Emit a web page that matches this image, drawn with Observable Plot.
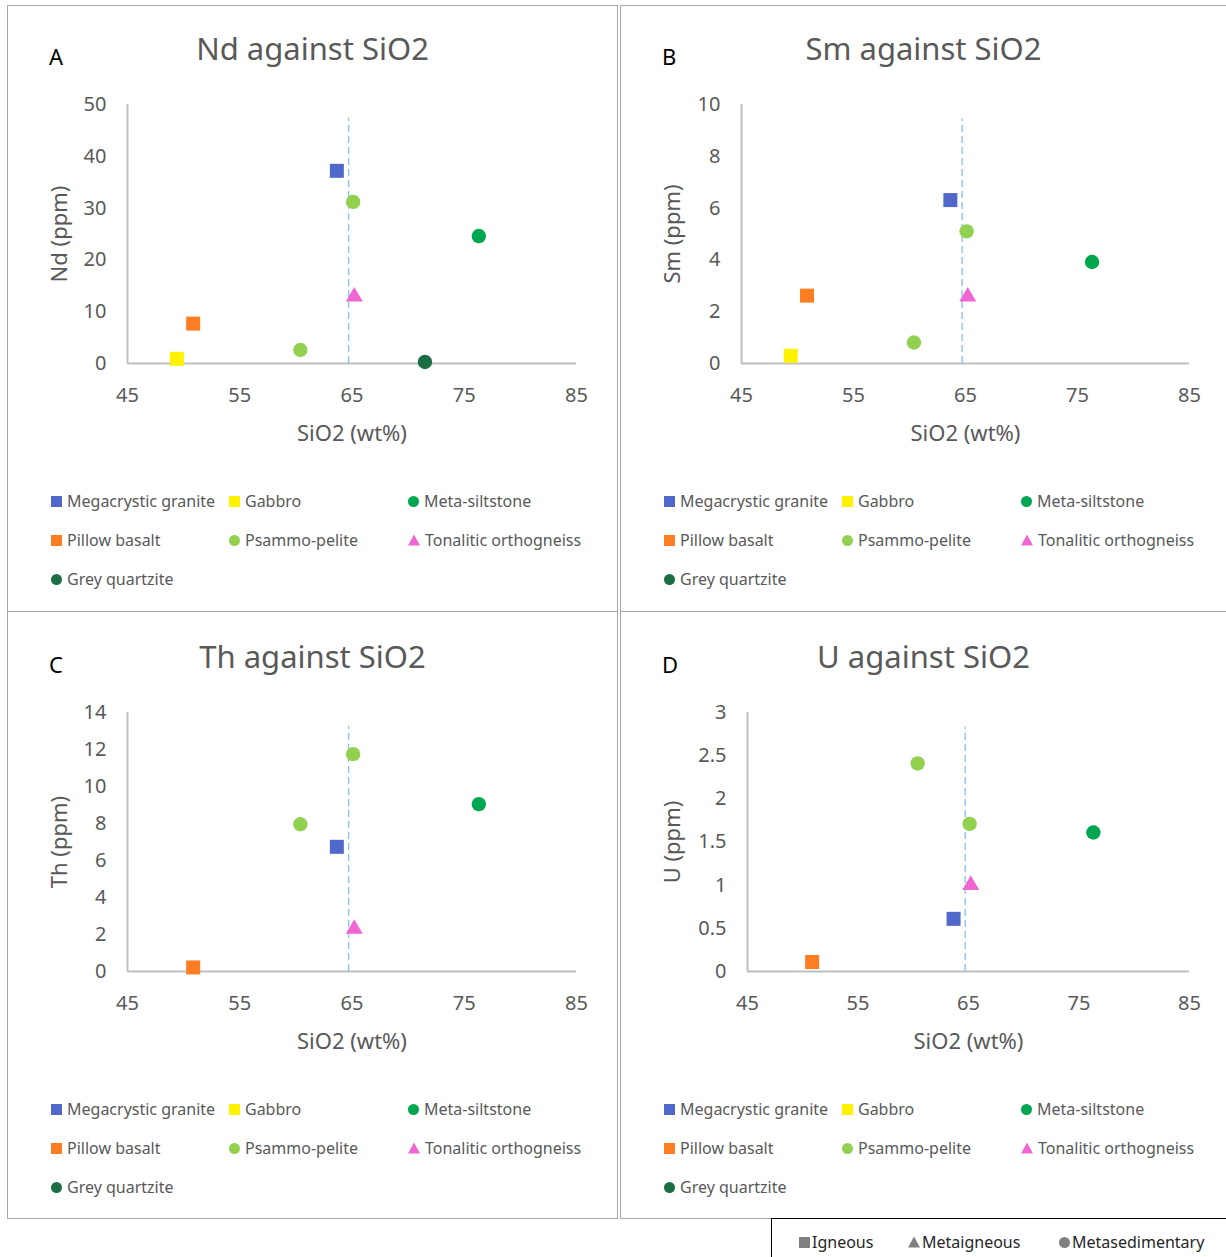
<!DOCTYPE html>
<html>
<head>
<meta charset="utf-8">
<script src="https://cdn.jsdelivr.net/npm/d3@7"></script>
<script src="https://cdn.jsdelivr.net/npm/@observablehq/plot@0.6"></script>
<style>
  html, body { margin: 0; padding: 0; background: #fff; overflow: hidden; }
  body { width: 1226px; height: 1257px; position: relative; font-family: "Noto Sans", sans-serif; }
  .panel { position: absolute; border: 1px solid #a6a6a6; box-sizing: border-box; background: #fff; }
  .letter { position: absolute; font-size: 22px; color: #000; line-height: 30px; }
  .title { position: absolute; left: 0; right: 0; text-align: center; font-size: 31px; color: #595959; line-height: 40px; }
  .plot { position: absolute; left: 0; }
  .leg { position: absolute; display: flex; align-items: center; height: 22px; font-size: 16px; color: #595959; white-space: nowrap; }
  .mk { display: inline-block; width: 11px; height: 11px; margin-right: 5px; }
  .mk.circle { border-radius: 50%; }
  .mk.triangle { clip-path: polygon(50% 0, 100% 100%, 0 100%); width: 12px; }
  #keybox { position: absolute; left: 771px; top: 1218px; width: 470px; height: 60px; border-left: 1px solid #000; border-top: 1px solid #000; }
  .key { position: absolute; top: 12px; display: flex; align-items: center; font-size: 16px; color: #262626; white-space: nowrap; }
  .key .mk { background: #808080; margin-right: 2px; }
</style>
</head>
<body>
<script>
// ---- data ----
const categories = ["Megacrystic granite", "Gabbro", "Meta-siltstone", "Pillow basalt", "Psammo-pelite", "Tonalitic orthogneiss", "Grey quartzite"];
const catColors = ["#4f68c9", "#fff200", "#00a650", "#fd7d22", "#92d050", "#f066d3", "#1b6d44"];
const catShapes = ["square", "square", "circle", "square", "circle", "triangle", "circle"];

// each sample: category, SiO2 (wt%)
const sampleCat  = ["Megacrystic granite", "Gabbro", "Pillow basalt", "Psammo-pelite", "Psammo-pelite", "Tonalitic orthogneiss", "Meta-siltstone", "Grey quartzite"];
const sampleSiO2 = [63.65, 49.4, 50.85, 60.4, 65.1, 65.2, 76.3, 71.5];

// trace element values (ppm), null = not plotted
const ndValues = [37.2, 0.9, 7.7, 2.6, 31.2, 12.9, 24.6, 0.3];
const smValues = [6.31, 0.3, 2.62, 0.81, 5.1, 2.58, 3.92, null];
const thValues = [6.74, null, 0.22, 7.96, 11.75, 2.3, 9.05, null];
const uValues  = [0.61, null, 0.11, 2.41, 1.71, 1.0, 1.61, null];

const xDomain = [45, 85];
const xTicks = [45, 55, 65, 75, 85];
const refSiO2 = 64.7;

const panelLetters = ["A", "B", "C", "D"];
const panelTitles = ["Nd against SiO2", "Sm against SiO2", "Th against SiO2", "U against SiO2"];
const panelYLabels = ["Nd (ppm)", "Sm (ppm)", "Th (ppm)", "U (ppm)"];
const panelYDomains = [[0, 50], [0, 10], [0, 14], [0, 3]];
const panelYTicks = [[0, 10, 20, 30, 40, 50], [0, 2, 4, 6, 8, 10], [0, 2, 4, 6, 8, 10, 12, 14], [0, 0.5, 1, 1.5, 2, 2.5, 3]];
const panelRefTop = [47.4, 9.45, 13.25, 2.83];
const panelValues = [ndValues, smValues, thValues, uValues];

const groupNames = ["Igneous", "Metaigneous", "Metasedimentary"];
const groupShapes = ["square", "triangle", "circle"];

// ---- layout ----
const panelBoxes = [
  {left: 7, top: 5, width: 611, height: 607, ml: 119, mr: 41, off: 0},
  {left: 620, top: 5, width: 607, height: 607, ml: 120, mr: 37, off: 0},
  {left: 7, top: 611, width: 611, height: 608, ml: 119, mr: 41, off: 2},
  {left: 620, top: 611, width: 607, height: 608, ml: 126, mr: 37, off: 2}
];

const colorOf = c => catColors[categories.indexOf(c)];
const shapeOf = c => catShapes[categories.indexOf(c)];

panelBoxes.forEach((box, p) => {
  const panel = document.createElement("div");
  panel.className = "panel";
  Object.assign(panel.style, {left: box.left + "px", top: box.top + "px", width: box.width + "px", height: box.height + "px"});
  document.body.appendChild(panel);

  const letter = document.createElement("div");
  letter.className = "letter";
  letter.style.left = "41px"; letter.style.top = (35 + box.off) + "px";
  letter.textContent = panelLetters[p];
  panel.appendChild(letter);

  const title = document.createElement("div");
  title.className = "title";
  title.style.top = (22 + box.off) + "px";
  title.textContent = panelTitles[p];
  panel.appendChild(title);

  const values = panelValues[p];
  const data = sampleCat.map((c, i) => ({cat: c, x: sampleSiO2[i], y: values[i]})).filter(d => d.y != null);
  const innerW = box.width - 2;
  const svgH = 382;
  const yMax = panelYDomains[p][1];
  const fmt = d => String(d);

  const chart = Plot.plot({
    width: innerW,
    height: svgH,
    marginLeft: box.ml,
    marginRight: box.mr,
    marginTop: 20,
    marginBottom: 103,
    style: {fontFamily: "Noto Sans, sans-serif", background: "transparent"},
    x: {domain: xDomain, ticks: xTicks, tickSize: 0, tickPadding: 24, tickFormat: fmt, label: null},
    y: {domain: panelYDomains[p], ticks: panelYTicks[p], tickSize: 0, tickPadding: 21, tickFormat: fmt, label: null},
    marks: [
      Plot.axisX({ticks: xTicks, tickSize: 0, tickPadding: 24, tickFormat: fmt, label: null, fontSize: 20, color: "#595959"}),
      Plot.axisY({ticks: panelYTicks[p], tickSize: 0, tickPadding: 21, tickFormat: fmt, label: null, fontSize: 20, color: "#595959"}),
      Plot.ruleY([0], {stroke: "#bfbfbf", strokeWidth: 2}),
      Plot.ruleX([xDomain[0]], {y1: 0, y2: yMax, stroke: "#bfbfbf", strokeWidth: 2}),
      Plot.ruleX([refSiO2], {y1: 0, y2: panelRefTop[p], stroke: "#8fc3f0", strokeWidth: 1.4, strokeDasharray: "7,4"}),
      Plot.dot(data.filter(d => shapeOf(d.cat) === "square"), {x: "x", y: "y", symbol: "square", r: 7.9, fill: d => colorOf(d.cat), stroke: "none"}),
      Plot.dot(data.filter(d => shapeOf(d.cat) === "circle"), {x: "x", y: "y", symbol: "circle", r: 7.2, fill: d => colorOf(d.cat), stroke: "none"}),
      Plot.dot(data.filter(d => shapeOf(d.cat) === "triangle"), {x: "x", y: "y", symbol: "triangle", r: 6.3, fill: d => colorOf(d.cat), stroke: "none"}),
      Plot.text([panelYLabels[p]], {frameAnchor: "left", dx: 51 - box.ml, rotate: -90, textAnchor: "middle", lineAnchor: "middle", fontSize: 22, fill: "#595959"}),
      Plot.text(["SiO2 (wt%)"], {frameAnchor: "bottom", dy: 70, textAnchor: "middle", lineAnchor: "middle", fontSize: 22, fill: "#595959"})
    ]
  });
  const holder = document.createElement("div");
  holder.className = "plot";
  holder.style.top = (78 + box.off) + "px";
  holder.appendChild(chart);
  panel.appendChild(holder);

  // legend
  const colX = [43, 221, 400];
  const rowY = [484, 523, 562];
  categories.forEach((c, i) => {
    const item = document.createElement("div");
    item.className = "leg";
    item.style.left = colX[i % 3] + "px";
    item.style.top = (rowY[Math.floor(i / 3)] + box.off) + "px";
    const mk = document.createElement("span");
    mk.className = "mk " + catShapes[i];
    mk.style.background = catColors[i];
    item.appendChild(mk);
    item.appendChild(document.createTextNode(c));
    panel.appendChild(item);
  });
});

// bottom key
const keybox = document.createElement("div");
keybox.id = "keybox";
document.body.appendChild(keybox);
const keyX = [27, 136, 287];
groupNames.forEach((g, i) => {
  const k = document.createElement("div");
  k.className = "key";
  k.style.left = keyX[i] + "px";
  const mk = document.createElement("span");
  mk.className = "mk " + groupShapes[i];
  k.appendChild(mk);
  k.appendChild(document.createTextNode(g));
  keybox.appendChild(k);
});
</script>
</body>
</html>
